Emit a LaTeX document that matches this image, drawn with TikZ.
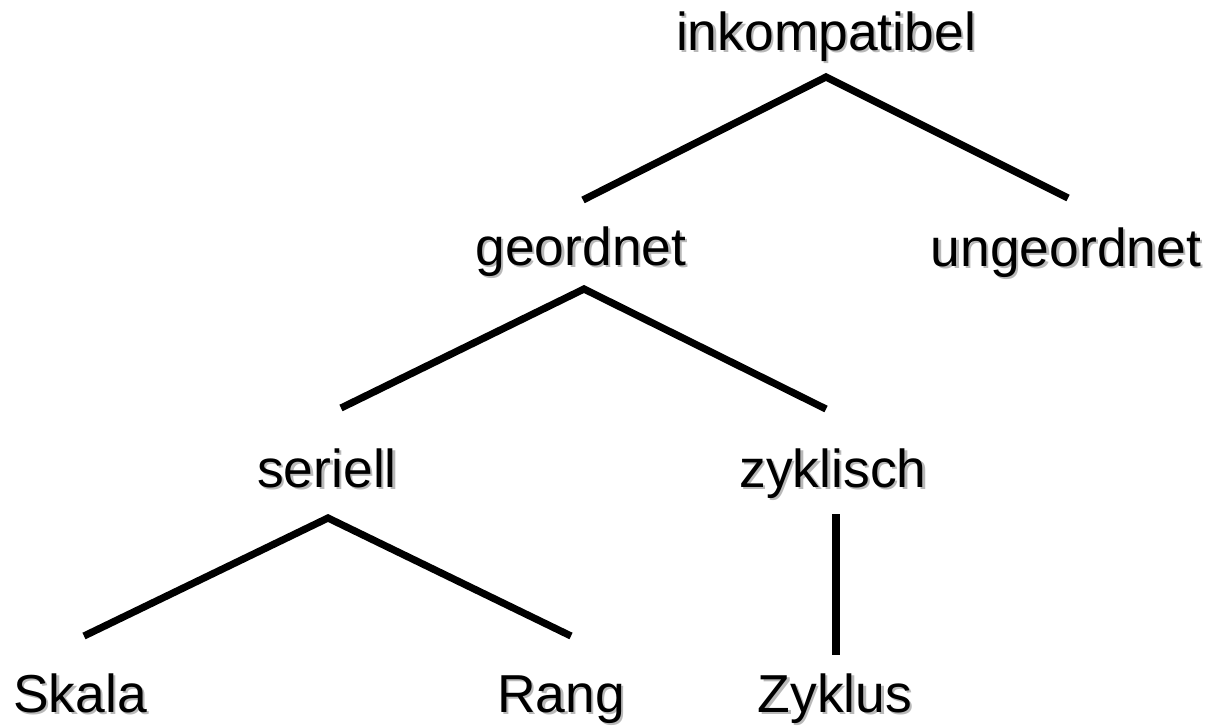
\documentclass[tikz,border=0pt]{standalone}
\usepackage{fontspec}
\setmainfont{Liberation Sans}
\usetikzlibrary{positioning}

\definecolor{shadowgray}{RGB}{185,185,185}

% label with a soft grey drop shadow behind it
\newcommand{\term}[3]{%
  \node[term, text=shadowgray, xshift=0.06cm, yshift=-0.06cm] (#1-sh) at (#2) {#3};
  \node[term] (#1) at (#2) {#3};}

\begin{document}
\begin{tikzpicture}
    \tikzstyle{term}=[anchor=base, inner sep=0pt, font=\fontsize{38}{45}\selectfont];
    \tikzstyle{branch}=[line width=0.18cm, black];

    \useasboundingbox (0,0) rectangle (30.275,-18.175);

    \term{ink}{20.65,-1.25}{inkompatibel}
    \term{geo}{14.525,-6.625}{geordnet}
    \term{ung}{26.65,-6.65}{ungeordnet}
    \term{ser}{8.175,-12.175}{seriell}
    \term{zyk}{20.825,-12.175}{zyklisch}
    \term{ska}{2.0,-17.8}{Skala}
    \term{rang}{14.025,-17.8}{Rang}
    \term{zykl}{20.875,-17.8}{Zyklus}

    % ends of the branches
    \coordinate (ink-s) at (20.65, -1.925);
    \coordinate (geo-n) at (14.575, -5.0);
    \coordinate (ung-n) at (26.7, -4.95);
    \coordinate (geo-s) at (14.6, -7.225);
    \coordinate (ser-n) at (8.525, -10.2);
    \coordinate (zyk-n) at (20.65, -10.225);
    \coordinate (ser-s) at (8.2, -12.95);
    \coordinate (ska-n) at (2.1, -15.9);
    \coordinate (rang-n) at (14.275, -15.9);
    \coordinate (zyk-s) at (20.9, -12.85);
    \coordinate (zykl-n) at (20.9, -16.375);

    \draw[branch] (geo-n) -- (ink-s) -- (ung-n);
    \draw[branch] (ser-n) -- (geo-s) -- (zyk-n);
    \draw[branch] (ska-n) -- (ser-s) -- (rang-n);
    \draw[branch] (zyk-s) -- (zykl-n);

\end{tikzpicture}
\end{document}
